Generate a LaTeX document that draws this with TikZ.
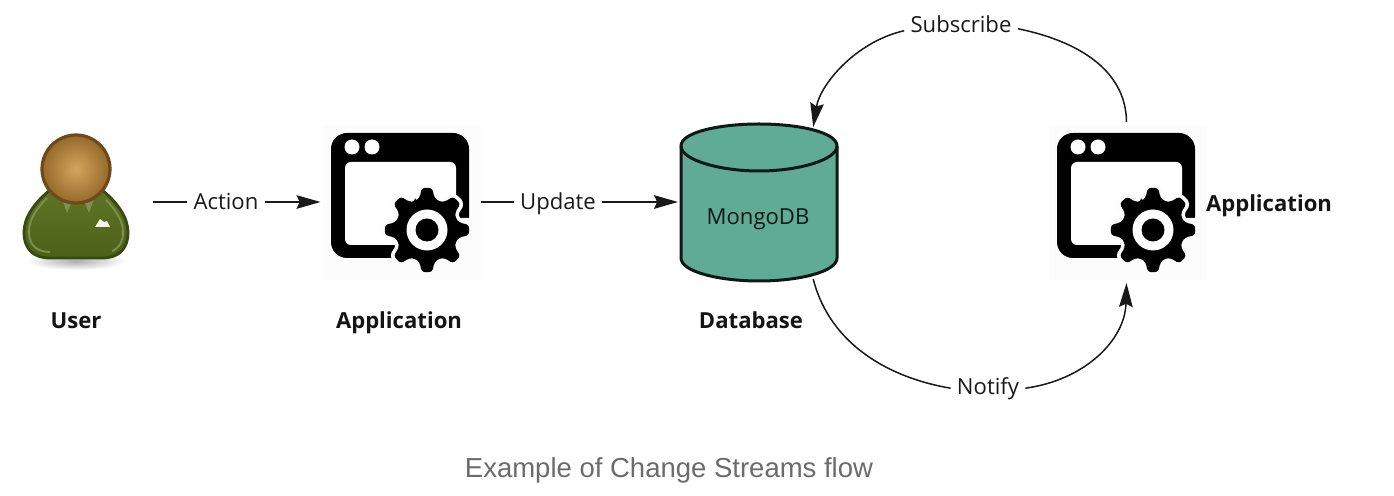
\documentclass[tikz,border=0pt]{standalone}
\usepackage{fontspec}
\setmainfont{Open Sans}
\newfontfamily\captionfnt{Liberation Sans}
\usetikzlibrary{arrows.meta,shadings}
\definecolor{dbgreen}{HTML}{5FAB93}
\definecolor{dbline}{HTML}{101815}
\definecolor{capgray}{HTML}{6B6B6B}
\definecolor{coatdark}{HTML}{38490E}
\definecolor{coat}{HTML}{5E7426}
\definecolor{coatlow}{HTML}{4C6118}
\definecolor{coatlight}{HTML}{7F9050}
\definecolor{headring}{HTML}{6F4A18}
\definecolor{headlight}{HTML}{D2A55F}
\definecolor{headdark}{HTML}{95692A}
\newcommand{\gearpath}{%
  (-112.5:31) \foreach \a in {-90,-45,...,225}{
    -- (\a-13:33) -- (\a-7:42.5) -- (\a+7:42.5) -- (\a+13:33) -- (\a+22.5:31)} -- cycle}
\tikzset{
  x=0.5pt,y=-0.5pt,
  flow/.style={line width=0.75pt,draw=black!90},
  arrowed/.style={flow,-{Stealth[length=12pt,width=6.8pt,inset=1.6pt]}},
  edgelabel/.style={anchor=base,font=\fontsize{11.05pt}{13pt}\selectfont,inner sep=3pt,text=black!90},
  title/.style={anchor=base,font=\fontsize{11.05pt}{13pt}\selectfont\bfseries,text=black!92,inner sep=0pt},
  anchorbox/.style={inner sep=0pt,outer sep=0pt,minimum width=80pt,minimum height=#1},
  appicon/.pic={
    \fill[black!1] (-8,-8) rectangle (150,147);
    \fill[black] (0,0) [rounded corners=8pt] rectangle (138,125);
    \fill[white] (14,29) [rounded corners=3pt] rectangle (125,112);
    \fill[white] (21,14) circle (7.5) (41,14) circle (7.5);
    \begin{scope}[shift={(96,97)}]
      \fill[black!1] (0,-12) rectangle (46,34) (-32,14) rectangle (0,34);
      \path[draw=black!1,fill=black!1,line width=3.6pt,line join=round,rounded corners=1pt] \gearpath;
      \fill[black,rounded corners=1.6pt] \gearpath;
      \fill[white] (0,0) circle (20.5);
      \fill[black] (0,0) circle (11.5);
    \end{scope}
  }
}
\begin{document}
\begin{tikzpicture}
\useasboundingbox (0,0) rectangle (1394,496);
% user icon
\shade[inner color=black!32,outer color=white,draw=none] (76,261) ellipse (50 and 9);
\path[top color=coat,bottom color=coatlow,draw=coatdark,line width=1.4pt]
  (50,190) .. controls (34,203) and (24,218) .. (24,232)
  .. controls (24,250) and (34,258) .. (50,258) -- (102,258)
  .. controls (118,258) and (128,250) .. (128,232)
  .. controls (128,218) and (118,203) .. (102,190) -- cycle;
\draw[coatlight,line width=0.9pt]
  (47,198) .. controls (36,209) and (29,220) .. (29,232)
  .. controls (29,246) and (38,252) .. (50,252);
\draw[coatlight,line width=0.9pt]
  (112,251) .. controls (120,248) and (123,240) .. (123,232) .. controls (123,222) and (117,211) .. (106,200);
\fill[coatlight] (62,199) -- (72,201) -- (67,213) -- cycle;
\fill[coatlight] (84,201) -- (94,199) -- (89,213) -- cycle;
\fill[white!92!coat] (95,227) -- (100,219) -- (104,222) -- (107,221) -- (110,227) -- cycle;
\shade[inner color=headlight,outer color=headdark,draw=headring,line width=1.6pt] (76,169) circle (34);
\node[anchorbox=66pt,minimum width=65pt] (user) at (88,199) {};
% applications
\pic at (331,133) {appicon};
\pic at (1057,133) {appicon};
\node[anchorbox=80pt] (appa) at (400.5,202) {};
\node[anchorbox=80.5pt] (appb) at (1126.5,202.5) {};
% database
\path[fill=dbgreen,draw=dbline,line width=1.5pt]
  (681,146) -- (681,258) .. controls (681,272) and (720,281) .. (759,281)
  .. controls (798,281) and (837,272) .. (837,258) -- (837,146)
  .. controls (837,132) and (798,124) .. (759,124)
  .. controls (720,124) and (681,132) .. (681,146) -- cycle;
\draw[dbline,line width=1.5pt]
  (681,146) .. controls (681,160) and (720,171) .. (759,171)
  .. controls (798,171) and (837,160) .. (837,146);
\node[anchorbox=76pt] (db) at (758,203) {};
\node[anchor=base,inner sep=0pt,font=\fontsize{11.05pt}{13pt}\selectfont,text=dbline] (mongo) at (758,225) {MongoDB};
% titles
\node[title] (tuser) at (76,329) {User};
\node[title] (tappa) at (399,329) {Application};
\node[title] (tdb) at (751,329) {Database};
\node[title] (tappb) at (1269,212) {Application};
% edge labels
\node[edgelabel] (action) at (226,209.5) {Action};
\node[edgelabel] (update) at (558,209.5) {Update};
\node[edgelabel] (subscribe) at (961,33) {Subscribe};
\node[edgelabel] (notify) at (988,395) {Notify};
% connectors
\draw[flow] (user.east |- 0,202) -- (action.west |- 0,202);
\draw[arrowed] (action.east |- 0,202) -- (appa.west);
\draw[flow] (appa.east) -- (update.west |- 0,202);
\draw[arrowed] (update.east |- 0,202) -- (db.west |- 0,202);
\draw[flow] (appb.north) .. controls (1126,70) and (1078,41) .. ([yshift=-2pt]subscribe.east);
\draw[arrowed] ([yshift=-3pt]subscribe.west) .. controls (855,42) and (820,85) .. (db.54.6);
\draw[flow] (db.-54.5) .. controls (830,345) and (890,378) .. ([yshift=0.5pt]notify.west);
\draw[arrowed] ([yshift=0.5pt]notify.east) .. controls (1085,380) and (1125,340) .. (appb.south);
% caption
\node[anchor=base,font=\captionfnt\fontsize{13.75pt}{16pt}\selectfont,text=capgray,inner sep=0pt] (cap) at (669,478) {Example of Change Streams flow};
\end{tikzpicture}
\end{document}
